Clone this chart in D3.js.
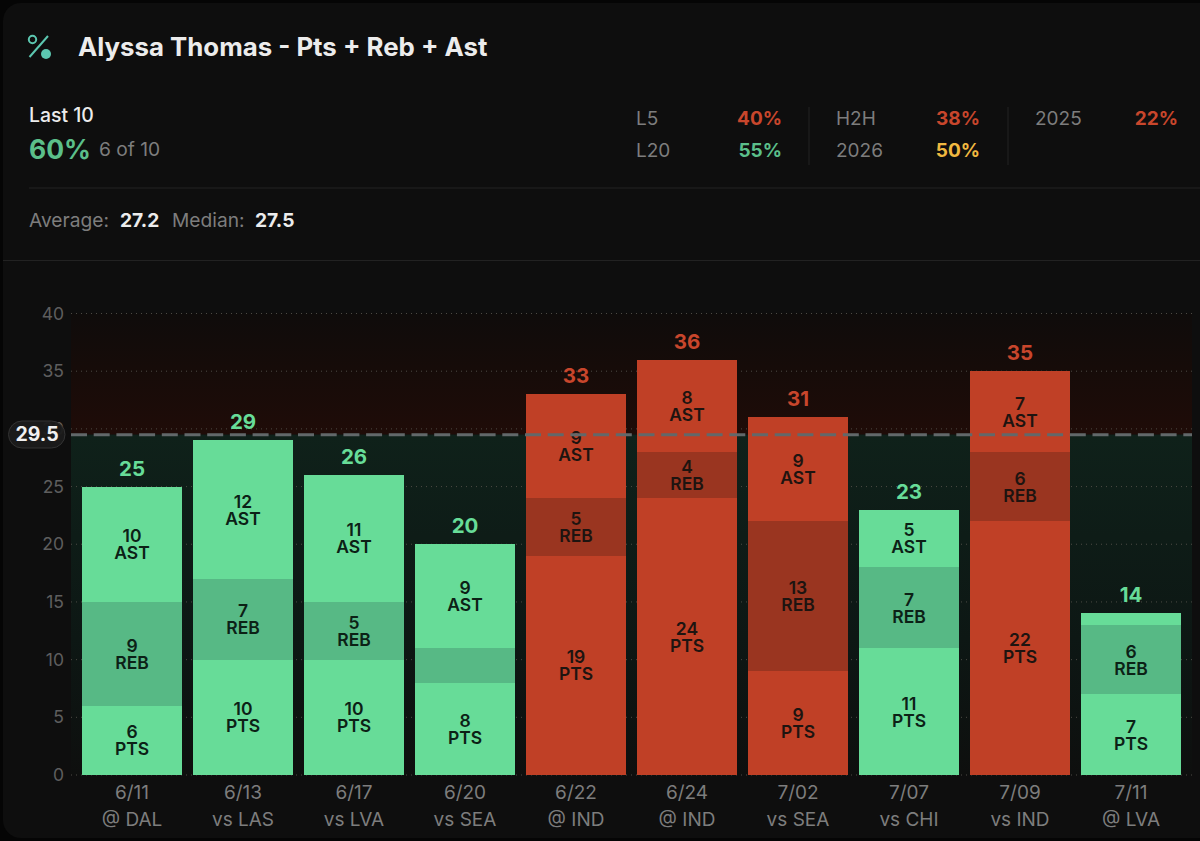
<!DOCTYPE html>
<html><head><meta charset="utf-8">
<script src="https://cdn.jsdelivr.net/npm/d3@7"></script>
<style>html,body{margin:0;padding:0;background:#050505;overflow:hidden}svg{display:block}text{font-family:Inter,"Noto Sans",sans-serif}</style>
</head><body><svg id="c" width="1200" height="841"></svg>
<script>
const games=["6/11","6/13","6/17","6/20","6/22","6/24","7/02","7/07","7/09","7/11"];
const opponents=["@ DAL","vs LAS","vs LVA","vs SEA","@ IND","@ IND","vs SEA","vs CHI","vs IND","@ LVA"];
const pts=[6,10,10,8,19,24,9,11,22,7];
const reb=[9,7,5,3,5,4,13,7,6,6];
const ast=[10,12,11,9,9,8,9,5,7,1];
const line=29.5;
const yTicks=[0,5,10,15,20,25,30,35,40];
const statLabels=["L5","L20","H2H","2026","2025"];
const statValues=["40%","55%","38%","50%","22%"];
const statColors=["#c8462c","#5bbf8a","#c8462c","#f0b840","#c8462c"];

const svg=d3.select("#c");
const GREEN="#67dc98",GREEN_D="#57b985",RED="#c04026",RED_D="#9a3520",TXT_G="#0c2116",TXT_R="#1e1410";
svg.append("rect").attr("x",3).attr("y",3).attr("width",1240).attr("height",835).attr("rx",18).attr("fill","#0e0e0e");

const t=(x,y,s,size,fill,weight,anchor)=>svg.append("text").attr("x",x).attr("y",y).text(s)
  .attr("font-size",size).attr("fill",fill).attr("font-weight",weight||400).attr("text-anchor",anchor||"start");

// icon
const ic=svg.append("g").attr("fill","none").attr("stroke","#5cc7b0").attr("stroke-width",2);
ic.append("circle").attr("cx",32.5).attr("cy",39.5).attr("r",3.7);
ic.append("line").attr("x1",29.5).attr("y1",57).attr("x2",48).attr("y2",36);
svg.append("circle").attr("cx",46).attr("cy",54).attr("r",5).attr("fill","#5cc7b0");

t(78,56,"Alyssa Thomas - Pts + Reb + Ast",25.8,"#ececec",650);
t(29,122,"Last 10",19.4,"#ececec",550);
t(29,159,"60%",26.5,"#5bbf8a",650);
t(99,156,"6 of 10",19.2,"#7d7d7d",400);

const sx=[636,636,836,836,1035], vx=[782,782,980,980,1178], sy=[125,157,125,157,125];
statLabels.forEach((s,i)=>{
  t(sx[i],sy[i],s,19,"#7d7d7d",400);
  t(vx[i],sy[i],statValues[i],19,statColors[i],650,"end");
});
[809,1008].forEach(x=>svg.append("line").attr("x1",x).attr("x2",x).attr("y1",107).attr("y2",165).attr("stroke","#222"));
svg.append("line").attr("x1",29).attr("x2",1200).attr("y1",188).attr("y2",188).attr("stroke","#222");
svg.append("line").attr("x1",3).attr("x2",1200).attr("y1",260.5).attr("y2",260.5).attr("stroke","#222");

t(29,227,"Average:",19.2,"#7d7d7d");
t(120,227,"27.2",19.2,"#ececec",650);
t(172,227,"Median:",19.2,"#7d7d7d");
t(255,227,"27.5",19.2,"#ececec",650);

// chart
const L=71,R=1192;
const x=d3.scaleBand().domain(games).range([L,R]).paddingInner(11/111).paddingOuter(11/111);
const y=d3.scaleLinear().domain([0,40]).range([775,313.5]);

const defs=svg.append("defs");
const rg=defs.append("linearGradient").attr("id","redFade").attr("x1",0).attr("x2",0).attr("y1",0).attr("y2",1);
rg.append("stop").attr("offset",0).attr("stop-color","#0f0c0b");
rg.append("stop").attr("offset",.45).attr("stop-color","#160c09");
rg.append("stop").attr("offset",1).attr("stop-color","#1f0c08");
const gg=defs.append("linearGradient").attr("id","greenFade").attr("x1",0).attr("x2",0).attr("y1",0).attr("y2",1);
gg.append("stop").attr("offset",0).attr("stop-color","#0f211a");
gg.append("stop").attr("offset",.6).attr("stop-color","#0d1714");
gg.append("stop").attr("offset",1).attr("stop-color","#0e0f0e");
svg.append("rect").attr("x",L).attr("width",R-L).attr("y",y(40)).attr("height",y(line)-y(40)).attr("fill","url(#redFade)");
svg.append("rect").attr("x",L).attr("width",R-L).attr("y",y(line)).attr("height",y(0)-y(line)).attr("fill","url(#greenFade)");

// grid + y axis
const yAxis=d3.axisLeft(y).tickValues(yTicks).tickSize(0).tickPadding(7);
const ga=svg.append("g").attr("transform",`translate(${L},0)`).call(yAxis);
ga.select(".domain").remove();
ga.selectAll("text").attr("font-size",17.5).attr("fill","#5e5e5e").style("font-family","Inter");
svg.selectAll("line.g").data(yTicks).join("line").attr("class","g").attr("x1",L).attr("x2",R)
  .attr("y1",d=>y(d)).attr("y2",d=>y(d)).attr("stroke","#4c4a44").attr("stroke-width",1).attr("stroke-dasharray","1 4");

// bars
games.forEach((g,i)=>{
  const total=pts[i]+reb[i]+ast[i], over=total>line;
  const c=over?RED:GREEN, cd=over?RED_D:GREEN_D, tc=over?TXT_R:TXT_G;
  const cx=x(g)+x.bandwidth()/2;
  const segs=[{v:pts[i],n:"PTS",f:c},{v:reb[i],n:"REB",f:cd},{v:ast[i],n:"AST",f:c}];
  let acc=0;
  segs.forEach(s=>{
    const a=acc,b=acc+s.v;acc=b;
    svg.append("rect").attr("x",x(g)).attr("width",x.bandwidth()).attr("y",y(b)).attr("height",y(a)-y(b)).attr("fill",s.f).attr("shape-rendering","crispEdges");
  });
  acc=0;
  segs.forEach(s=>{
    const a=acc,b=acc+s.v;acc=b;
    if(s.v<4) return;
    const m=(y(a)+y(b))/2;
    const lab=svg.append("text").attr("text-anchor","middle").attr("font-size",17.5).attr("font-weight",600).attr("fill",tc);
    lab.append("tspan").attr("x",cx).attr("y",m-2).text(s.v);
    lab.append("tspan").attr("x",cx).attr("y",m+15).text(s.n);
  });
  t(cx,y(total)-11,total,20.5,over?"#c8462c":GREEN,700,"middle");
  const xl=svg.append("text").attr("text-anchor","middle").attr("font-size",19).attr("fill","#7d7d7d");
  xl.append("tspan").attr("x",cx).attr("y",799).text(games[i]);
  xl.append("tspan").attr("x",cx).attr("y",826).text(opponents[i]);
});

// line
svg.append("line").attr("x1",L).attr("x2",R).attr("y1",y(line)).attr("y2",y(line))
  .attr("stroke","#62686a").attr("stroke-width",3).attr("stroke-dasharray","16 6.7");
svg.append("rect").attr("x",8.5).attr("y",421).attr("width",56.5).attr("height",27).attr("rx",13.5)
  .attr("fill","#1c1c1c").attr("fill-opacity",.94).attr("stroke","#333");
t(37,441,line,19.5,"#f0f0f0",650,"middle");
</script></body></html>
